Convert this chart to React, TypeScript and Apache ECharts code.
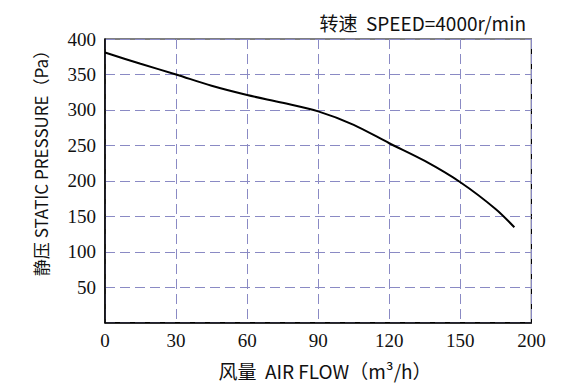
import React, { useEffect, useRef } from "react";
import * as echarts from "echarts";

// Tick labels of the x axis (the last interval 150→200 is drawn as wide as the others)
const xTickValues = [0, 30, 60, 90, 120, 150, 200];
const yTicks = [0, 50, 100, 150, 200, 250, 300, 350, 400];

// Air flow (m³/h) and static pressure (Pa)
const airFlow = [0, 15, 30, 45, 60, 75, 90, 105, 120, 135, 150, 175, 188];
const staticPressure = [381, 365, 350, 334, 321, 310, 298, 279, 253, 228, 198, 160, 134.5];

const titleText = "转速  SPEED=4000r/min";
const xName = "风量  AIR FLOW（m³/h）";
const yName = "静压 STATIC PRESSURE（Pa）";

const STEP = 30;

// map a real flow value onto the equally spaced tick positions of the axis
function toAxis(v: number): number {
  for (let i = 0; i < xTickValues.length - 1; i++) {
    const a = xTickValues[i];
    const b = xTickValues[i + 1];
    if (v <= b || i === xTickValues.length - 2) {
      return (i + (v - a) / (b - a)) * STEP;
    }
  }
  return 0;
}

export default function App() {
  const ref = useRef<HTMLDivElement>(null);

  useEffect(() => {
    if (!ref.current) return;
    const chart = echarts.init(ref.current, undefined, { renderer: "svg" });
    const sansFont = "Noto Sans CJK SC";
    const serifFont = "Liberation Serif";
    const gridColor = "#8a8ac4";
    const richSerif = {
      s: { fontFamily: serifFont, fontSize: 19, color: "#111" },
    };
    chart.setOption({
      animation: false,
      backgroundColor: "#ffffff",
      grid: {
        left: 105,
        right: 48.6,
        top: 39,
        bottom: 67.3,
        show: true,
        borderColor: "#000",
        borderWidth: 1.2,
      },
      title: {
        text: titleText,
        right: 49,
        top: 8,
        textStyle: {
          fontFamily: sansFont,
          fontSize: 19,
          fontWeight: "normal",
          color: "#111",
        },
      },
      xAxis: {
        type: "value",
        min: 0,
        max: (xTickValues.length - 1) * STEP,
        interval: STEP,
        axisLine: { show: true, lineStyle: { color: "#000", width: 1.5 } },
        axisTick: { show: false },
        axisLabel: {
          margin: 8,
          fontFamily: serifFont,
          fontSize: 19,
          color: "#111",
          rich: richSerif,
          formatter: (v: number) => {
            const i = Math.round(v / STEP);
            return xTickValues[i] !== undefined ? "{s|" + xTickValues[i] + "}" : "";
          },
        },
        splitLine: {
          show: true,
          lineStyle: { color: gridColor, type: [10, 5], width: 1 },
        },
      },
      yAxis: {
        type: "value",
        min: yTicks[0],
        max: yTicks[yTicks.length - 1],
        interval: 50,
        axisLine: { show: true, lineStyle: { color: "#000", width: 1.5 } },
        axisTick: { show: false },
        axisLabel: {
          margin: 9,
          fontFamily: serifFont,
          fontSize: 19,
          color: "#111",
          rich: richSerif,
          formatter: (v: number) => (v === 0 ? "" : "{s|" + v + "}"),
        },
        splitLine: {
          show: true,
          lineStyle: { color: gridColor, type: [10, 5], width: 1 },
        },
      },
      graphic: [
        {
          type: "text",
          x: 325,
          y: 370,
          style: {
            text: xName,
            fontFamily: sansFont,
            fontSize: 19,
            fill: "#111",
            align: "center",
            verticalAlign: "middle",
          },
        },
        {
          type: "text",
          x: 40,
          y: 159,
          rotation: Math.PI / 2,
          style: {
            text: yName,
            fontFamily: sansFont,
            fontSize: 17,
            fill: "#111",
            align: "center",
            verticalAlign: "middle",
          },
        },
      ],
      series: [
        {
          type: "line",
          smooth: 0.3,
          showSymbol: false,
          lineStyle: { color: "#000", width: 2 },
          data: airFlow.map((f, i) => [toAxis(f), staticPressure[i]]),
          z: 5,
        },
      ],
    });
    return () => chart.dispose();
  }, []);

  return (
    <div
      ref={ref}
      style={{ position: "fixed", left: 0, top: 0, width: 580, height: 390 }}
    />
  );
}
